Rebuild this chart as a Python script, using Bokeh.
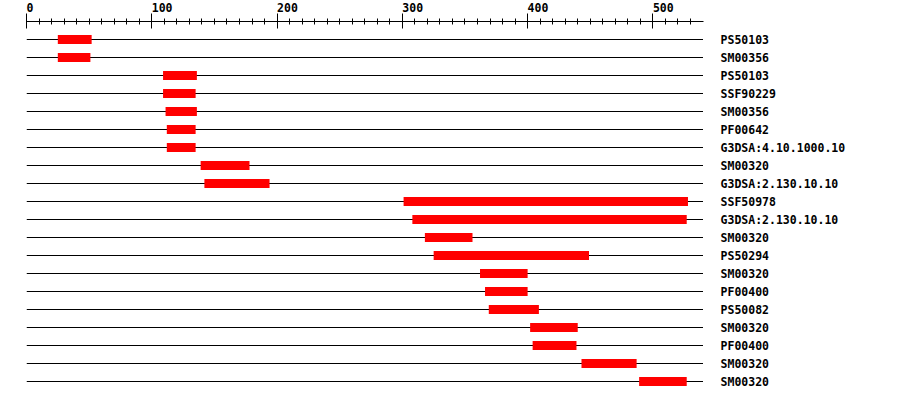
from bokeh.plotting import figure
from bokeh.models import FixedTicker, Range1d
from bokeh.core.properties import value
from bokeh.embed import file_html
from bokeh.resources import INLINE

# ---- data ----
seq_length = 540
names = ["PS50103", "SM00356", "PS50103", "SSF90229", "SM00356", "PF00642",
         "G3DSA:4.10.1000.10", "SM00320", "G3DSA:2.130.10.10", "SSF50978",
         "G3DSA:2.130.10.10", "SM00320", "PS50294", "SM00320", "PF00400",
         "PS50082", "SM00320", "PF00400", "SM00320", "SM00320"]
starts = [25, 25, 109, 109, 111, 112, 112, 139, 142, 301,
          308, 318, 325, 362, 366, 369, 402, 404, 443, 489]
ends = [52, 51, 136, 135, 136, 135, 135, 178, 194, 528,
        527, 356, 449, 400, 400, 409, 440, 439, 487, 527]
major_ticks = [0, 100, 200, 300, 400, 500]
minor_ticks = list(range(0, 531, 10))
label_x = 554

FONT = value("DejaVu Sans Mono")
rows = list(range(len(names)))

W, H = 895, 398
left_border, top_border = 26, 26
frame_w = W - left_border
frame_h = H - top_border
px_per_unit = 1.2528
row_px = 18.0
y_top = -1.0

p = figure(width=W, height=H, output_backend="svg", toolbar_location=None,
           x_axis_location="above", y_axis_location=None,
           x_range=Range1d(0, frame_w / px_per_unit),
           y_range=Range1d(y_top + frame_h / row_px, y_top),
           min_border_left=left_border, min_border_top=top_border,
           min_border_right=0, min_border_bottom=0)
p.margin = (-5, 0, 0, 0)
p.outline_line_color = None
p.xgrid.visible = False
p.ygrid.visible = False
p.background_fill_color = "white"
p.border_fill_color = "white"

ax = p.xaxis[0]
ax.ticker = FixedTicker(ticks=major_ticks, minor_ticks=minor_ticks)
ax.bounds = (0, seq_length)
ax.major_tick_in = 7
ax.major_tick_out = 8
ax.minor_tick_in = 3
ax.minor_tick_out = 3
ax.axis_line_color = "black"
ax.major_tick_line_color = "black"
ax.minor_tick_line_color = "black"
ax.major_label_orientation = 1e-4   # tiny angle: labels left-aligned at their tick
ax.major_label_standoff = 6
ax.major_label_text_font = "DejaVu Sans Mono"
ax.major_label_text_font_style = "bold"
ax.major_label_text_font_size = "11.5px"
ax.major_label_text_color = "black"

# sequence lines
p.segment(x0=[0] * len(rows), y0=rows, x1=[seq_length] * len(rows), y1=rows,
          line_color="black", line_width=1)

# domain bars
p.hbar(y=rows, left=starts, right=ends, height=0.5,
       fill_color="#ff0000", line_color=None)

# names
p.text(x=[label_x] * len(rows), y=rows, text=names,
       text_font=FONT, text_font_style="bold", text_font_size="11.5px",
       text_baseline="middle", text_align="left", y_offset=0,
       text_color="black")

open("out.html", "w").write(file_html(p, INLINE))
